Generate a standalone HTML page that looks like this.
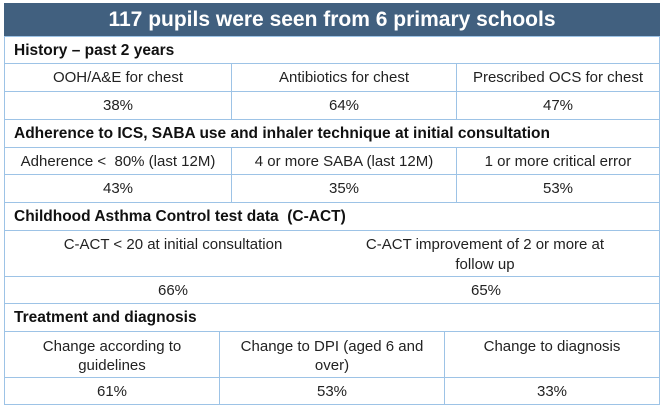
<!DOCTYPE html>
<html><head><style>
body{margin:0;width:665px;height:412px;background:#fff;position:relative;font-family:"Liberation Sans","DejaVu Sans",sans-serif;overflow:hidden}
.c{position:absolute;box-sizing:border-box;border:1px solid #9dc3e6;color:#222;font-size:15px;text-align:center;line-height:18px;padding-top:5px;white-space:nowrap}
.w{white-space:normal;line-height:19px;padding-left:14px;padding-right:14px}
.h{text-align:left;font-weight:bold;padding-left:9px;color:#111;font-size:15.5px}
.t{position:absolute;left:4px;top:3px;width:656px;height:34px;background:#41607f;color:#fff;font-weight:bold;font-size:21px;text-align:center;line-height:34px}
.f{position:absolute;text-align:center;font-size:15px;line-height:19px;color:#222}
</style></head><body>
<div class="t">117 pupils were seen from 6 primary schools</div>
<div class="c h" style="left:4px;top:36px;width:656px;height:28px">History – past 2 years</div>
<div class="c" style="left:4px;top:63px;width:228px;height:29px">OOH/A&amp;E for chest</div>
<div class="c" style="left:231px;top:63px;width:226px;height:29px">Antibiotics for chest</div>
<div class="c" style="left:456px;top:63px;width:204px;height:29px">Prescribed OCS for chest</div>
<div class="c" style="left:4px;top:91px;width:228px;height:29px">38%</div>
<div class="c" style="left:231px;top:91px;width:226px;height:29px">64%</div>
<div class="c" style="left:456px;top:91px;width:204px;height:29px">47%</div>
<div class="c h" style="left:4px;top:119px;width:656px;height:29px">Adherence to ICS, SABA use and inhaler technique at initial consultation</div>
<div class="c" style="left:4px;top:147px;width:228px;height:28px">Adherence &lt;&nbsp; 80% (last 12M)</div>
<div class="c" style="left:231px;top:147px;width:226px;height:28px">4 or more SABA (last 12M)</div>
<div class="c" style="left:456px;top:147px;width:204px;height:28px">1 or more critical error</div>
<div class="c" style="left:4px;top:174px;width:228px;height:29px">43%</div>
<div class="c" style="left:231px;top:174px;width:226px;height:29px">35%</div>
<div class="c" style="left:456px;top:174px;width:204px;height:29px">53%</div>
<div class="c h" style="left:4px;top:202px;width:656px;height:29px">Childhood Asthma Control test data&nbsp; (C-ACT)</div>
<div class="c" style="left:4px;top:230px;width:656px;height:47px"></div>
<div class="f" style="left:4px;top:235px;width:338px">C-ACT &lt; 20 at initial consultation</div>
<div class="f" style="left:355px;top:235px;width:260px;line-height:20px">C-ACT improvement of 2 or more at follow up</div>
<div class="c" style="left:4px;top:276px;width:656px;height:28px"></div>
<div class="f" style="left:4px;top:281px;width:338px">66%</div>
<div class="f" style="left:362px;top:281px;width:248px">65%</div>
<div class="c h" style="left:4px;top:303px;width:656px;height:29px">Treatment and diagnosis</div>
<div class="c w" style="left:4px;top:331px;width:216px;height:47px;padding-left:28px;padding-right:28px">Change according to guidelines</div>
<div class="c w" style="left:219px;top:331px;width:226px;height:47px">Change to DPI (aged 6 and over)</div>
<div class="c w" style="left:444px;top:331px;width:216px;height:47px">Change to diagnosis</div>
<div class="c" style="left:4px;top:377px;width:216px;height:28px">61%</div>
<div class="c" style="left:219px;top:377px;width:226px;height:28px">53%</div>
<div class="c" style="left:444px;top:377px;width:216px;height:28px">33%</div>
</body></html>
